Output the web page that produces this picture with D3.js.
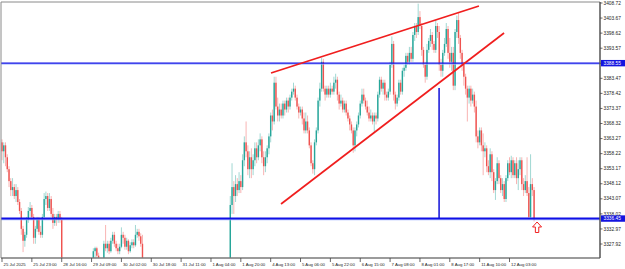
<!DOCTYPE html>
<html><head><meta charset="utf-8">
<script src="https://cdn.jsdelivr.net/npm/d3@7"></script>
<style>body{margin:0;background:#fff}svg{display:block}text{font-family:"Liberation Sans",Arial,sans-serif}</style>
</head><body><svg id="c" width="625" height="269"></svg>
<script>
// H1 bars, index 0 = first visible bar (25 Jul 2025)
const opens=[
3362,3359,3361,3357,3353,3349,3346,3347,3344,3346,
3342,3339,3333,3329,3331,3336,3339,3340,3337,3330,
3333,3336,3332,3331,3337,3343,3344,3340,3343,3338,
3335,3337,3336,3338,3336,3322,3317,3314,3311,3309,
3305,3307,3304,3306,3309,3312,3310,3313,3316,3314,
3317,3315,3319,3325.5,3326.5,3324,3321,3318,3317,3328,
3326.5,3328,3325.5,3329,3331,3328,3326.5,3325.5,3327,3331,
3330,3327,3329,3325.5,3327.5,3328.5,3327.5,3331,3332,3330.5,
3328,3322,3298,3285,3275,3279,3283,3287,3290,3288,
3292,3296,3294,3298,3302,3306,3311,3308,3303,3298,
3294,3291,3293,3290,3292,3289,3291,3293,3290,3292,
3295,3293,3291,3289,3291,3293,3290,3288,3290,3292,
3289,3291,3294,3292,3295,3293,3291,3290,3292,3291,
3292,3341,3347,3344,3348,3346,3349,3347,3356,3362,
3359,3353,3357,3353,3356,3360,3357,3361,3363,3357,
3354,3357,3360,3364,3371,3369,3382,3374,3371,3373,
3371,3375,3373,3376,3374,3377,3379,3380,3377,3374,
3372,3373,3370,3366,3369,3366,3361,3355,3353,3362,
3366,3376,3380,3389,3380,3378,3380,3378,3380,3379,
3382,3383,3378,3375,3376,3373,3375,3372,3370,3368,
3366,3361,3366,3368,3371,3375,3378,3376,3374,3372,
3370,3371,3369,3371,3370,3378,3383,3380,3382,3378,
3377,3379,3388,3395,3378,3375,3377,3382,3379,3386,
3387,3391,3389,3392,3390,3398,3401,3399,3404,3401,
3393,3388,3384,3393,3396,3398,3395,3393,3401,3399,
3388,3386,3392,3395,3400,3392,3389,3392,3381,3399,
3403,3397,3392,3388,3384,3380,3377,3380,3376,3378,
3374,3364,3362,3366,3361,3359,3360,3354,3352,3358,
3352,3346,3349,3355,3350,3346,3348,3343,3350,3355,
3352,3356,3351,3355,3350,3353,3356,3348,3346,3349,
3345,3337,3348,3346];
const highs=[
3363,3362,3362,3358,3354,3350,3350,3348,3348,3347,
3343,3340,3334,3332,3337,3340.3,3342,3341,3338,3334,
3337,3337,3334,3338,3345,3345.5,3345,3345,3344,3340,
3338,3338,3339,3339,3337,3323,3319,3316,3313,3311,
3309,3309,3308,3311,3314,3315,3316,3318,3319,3320,
3319,3321,3326.5,3327,3327,3325,3322,3320,3329,3334.3,
3329,3329,3330,3332,3332,3329,3328,3328,3333.5,3332,
3331,3330,3329.5,3328.5,3329.5,3329.5,3334.3,3333,3333,3331.5,
3331,3322,3300,3288,3282,3286,3290,3293,3292,3294,
3298,3299,3301,3304,3309,3314,3315,3310,3305,3300,
3296,3295,3295,3294,3293,3293,3295,3294,3294,3297,
3297,3295,3293,3293,3295,3294,3292,3292,3294,3293,
3293,3296,3295,3297,3297,3295,3293,3294,3294,3294,
3344,3355,3349,3351,3350,3352,3351,3358,3364,3369,
3361,3359,3360,3358,3362,3362,3363,3365,3364,3359,
3359,3361,3365,3372,3373,3384,3384,3377,3375,3375,
3376,3376,3377,3377,3378,3380,3382,3381,3378,3375,
3374,3374,3372,3372,3371,3367,3362,3356,3363,3367,
3377,3382,3390.3,3390,3381,3381,3381,3382,3381,3384,
3385,3384,3379,3378,3377,3376,3376,3373,3371,3369,
3367,3367,3369,3372,3376,3380,3380,3377,3376,3374,
3373,3372,3372,3372,3379,3384,3384,3383,3383,3379,
3380,3389,3397.5,3396,3379,3378,3383,3383,3387,3388,
3392,3392,3394,3394,3399,3402,3402,3408.5,3406,3402,
3394,3389,3395,3397,3400,3399,3396,3403,3402,3401,
3390,3393,3397,3402,3401,3397,3394,3394,3400,3404.5,
3405.5,3398,3393,3389,3385,3381,3381,3381,3380,3379,
3376,3366,3367,3367,3365,3362,3361,3356,3360,3359,
3353,3350,3357,3356,3351,3350,3349,3351,3356,3357,
3357.5,3357,3356,3357,3356,3357,3357,3350,3351,3357,
3347,3358,3350,3347];
const lows=[
3356,3355,3354,3352,3347,3344,3344,3343,3342,3341,
3338,3331,3325.2,3327,3330,3335,3337,3336,3328,3328,
3332,3331,3330,3330,3336,3341,3339,3339,3337,3333,
3334,3334,3335,3335,3318,3314,3311,3309,3306,3303,
3302,3301,3302,3304,3307,3308,3309,3311,3312,3313,
3313,3314,3318,3323,3322,3320,3316,3315,3316,3325.5,
3325,3324.5,3325,3328,3327,3325.5,3324.5,3324.5,3326.5,3328,
3326,3326,3324.5,3325,3326.5,3326.5,3327,3330,3329,3327,
3318,3294,3280,3268,3270,3276,3281,3285,3285,3286,
3290,3291,3292,3296,3300,3304,3305,3300,3295,3291,
3288,3289,3287,3288,3286,3287,3289,3288,3288,3290,
3291,3289,3287,3288,3290,3288,3286,3286,3289,3287,
3288,3290,3290,3291,3291,3289,3288,3289,3289,3290,
3290,3338,3338,3342,3344,3345,3345,3346,3354,3357,
3351,3350,3350,3351,3354,3355,3356,3359,3355,3351,
3352,3355,3358,3362,3366,3368,3373,3369,3369,3370,
3370,3371,3372,3372,3373,3376,3378,3376,3373,3370,
3371,3368,3365,3365,3365,3360,3354,3351.5,3351,3361,
3365,3374,3379,3379,3376,3377,3377,3377,3378,3378,
3380,3376,3373,3374,3372,3372,3371,3369,3366,3365,
3358.5,3359,3364,3367,3370,3374,3375,3373,3371,3369,
3369,3368,3365.5,3368,3369,3377,3379,3378,3376,3376,
3376,3378,3387,3376,3373,3374,3376,3378,3378,3384,
3386,3388,3388,3389,3389,3396,3397,3398,3400,3391,
3387,3382,3383,3392,3394,3393,3392,3392,3397,3386,
3384,3384,3391,3394,3390,3387,3386,3379.5,3379.5,3397,
3395,3390,3386,3381,3378,3369,3375,3374,3375,3372,
3362,3360,3361,3359,3351,3357,3352,3351,3350,3349,
3345,3342.7,3348,3348,3345,3344,3342,3342,3349,3351,
3350,3350,3350,3348,3346,3351,3346,3344,3345,3344,
3336.5,3336.5,3344,3335.5];
const closes=[
3359,3361,3357,3353,3349,3346,3347,3344,3346,3342,
3339,3333,3329,3331,3336,3339,3340,3337,3330,3333,
3336,3332,3331,3337,3343,3344,3340,3343,3338,3335,
3337,3336,3338,3336,3322,3317,3314,3311,3309,3305,
3307,3304,3306,3309,3312,3310,3313,3316,3314,3317,
3315,3319,3325.5,3326.5,3324,3321,3318,3317,3328,3326.5,
3328,3325.5,3329,3331,3328,3326.5,3325.5,3327,3331,3330,
3327,3329,3325.5,3327.5,3328.5,3327.5,3331,3332,3330.5,3328,
3322,3298,3285,3275,3279,3283,3287,3290,3288,3292,
3296,3294,3298,3302,3306,3311,3308,3303,3298,3294,
3291,3293,3290,3292,3289,3291,3293,3290,3292,3295,
3293,3291,3289,3291,3293,3290,3288,3290,3292,3289,
3291,3294,3292,3295,3293,3291,3290,3292,3291,3292,
3341,3347,3344,3348,3346,3349,3347,3356,3362,3359,
3353,3357,3353,3356,3360,3357,3361,3363,3357,3354,
3357,3360,3364,3371,3369,3382,3374,3371,3373,3371,
3375,3373,3376,3374,3377,3379,3380,3377,3374,3372,
3373,3370,3366,3369,3366,3361,3355,3353,3362,3366,
3376,3380,3389,3380,3378,3380,3378,3380,3379,3382,
3383,3378,3375,3376,3373,3375,3372,3370,3368,3366,
3361,3366,3368,3371,3375,3378,3376,3374,3372,3370,
3371,3369,3371,3370,3378,3383,3380,3382,3378,3377,
3379,3388,3395,3378,3375,3377,3382,3379,3386,3387,
3391,3389,3392,3390,3398,3401,3399,3404,3401,3393,
3388,3384,3393,3396,3398,3395,3393,3401,3399,3388,
3386,3392,3395,3400,3392,3389,3392,3381,3399,3403,
3397,3392,3388,3384,3380,3377,3380,3376,3378,3374,
3364,3362,3366,3361,3359,3360,3354,3352,3358,3352,
3346,3349,3355,3350,3346,3348,3343,3350,3355,3352,
3356,3351,3355,3350,3353,3356,3348,3346,3349,3345,
3337,3348,3346,3336];
const timeLabels=["25 Jul 2025","25 Jul 23:00","28 Jul 16:00","29 Jul 09:00","30 Jul 02:00","30 Jul 18:00","31 Jul 11:00","1 Aug 04:00","1 Aug 20:00","4 Aug 13:00","5 Aug 06:00","5 Aug 22:00","6 Aug 15:00","7 Aug 08:00","8 Aug 01:00","8 Aug 17:00","11 Aug 10:00","12 Aug 03:00"];
const labelBars=[0,17,34,51,68,85,102,119,136,153,170,187,204,221,238,255,272,289];
const priceTicks=[3408.72,3403.67,3398.62,3393.57,3388.52,3383.47,3378.42,3373.37,3368.32,3363.27,3358.22,3353.17,3348.12,3343.07,3338.02,3332.97,3327.92];
const hLevels=[3388.55,3336.45];
const trendUpper=[[153.2,3385.25],[271.6,3407.7]];
const trendLower=[[158.9,3341.33],[285.9,3398.66]];
const vLine={bar:248.9,from:3380.2,to:3336.45};
const arrowMark={bar:304.7,price:3335.3};

const svg=d3.select('#c');
const L=1,R=600,T=2,B=258;
const x=d3.scaleLinear().domain([0,289]).range([2,509.5]);
const y=d3.scaleLinear().domain([3327.92,3408.72]).range([244,3]);
const bull='#26a69a',bear='#ef5350';

svg.append('rect').attr('width',625).attr('height',269).attr('fill','#fff');
svg.append('defs').append('clipPath').attr('id','clip').append('rect')
  .attr('x',L).attr('y',T).attr('width',R-L).attr('height',B-T);
const g=svg.append('g').attr('clip-path','url(#clip)');

const bars=closes.map((c,i)=>({i,o:opens[i],h:highs[i],l:lows[i],c}));
g.selectAll('line.wick').data(bars).join('line').attr('class','wick')
  .attr('x1',d=>x(d.i)).attr('x2',d=>x(d.i))
  .attr('y1',d=>y(d.h)).attr('y2',d=>y(d.l))
  .attr('stroke',d=>d.c>=d.o?bull:bear).attr('stroke-width',0.8).attr('stroke-opacity',0.55);
g.selectAll('rect.body').data(bars).join('rect').attr('class','body')
  .attr('x',d=>x(d.i)-0.7).attr('width',1.4)
  .attr('y',d=>y(Math.max(d.o,d.c)))
  .attr('height',d=>Math.max(0.8,Math.abs(y(d.o)-y(d.c))))
  .attr('fill',d=>d.c>=d.o?bull:bear);

// horizontal levels
hLevels.forEach((p,k)=>{
  g.append('line').attr('x1',L).attr('x2',R).attr('y1',y(p)+(k?1.2:0.9)).attr('y2',y(p)+(k?1.2:0.9))
   .attr('stroke','#9fb4ff').attr('stroke-width',1);
  g.append('line').attr('x1',L).attr('x2',R).attr('y1',y(p)).attr('y2',y(p))
   .attr('stroke','#1010e6').attr('stroke-width',k?2:1.3);
});
// vertical line
g.append('line').attr('x1',x(vLine.bar)).attr('x2',x(vLine.bar))
  .attr('y1',y(vLine.from)).attr('y2',y(vLine.to)).attr('stroke','#1010d8').attr('stroke-width',1.5);
// trend lines
[trendUpper,trendLower].forEach(t=>{
  g.append('line').attr('x1',x(t[0][0])).attr('y1',y(t[0][1])).attr('x2',x(t[1][0])).attr('y2',y(t[1][1]))
   .attr('stroke','#f01e1e').attr('stroke-width',1.7);
});
// arrow
{const ax=x(arrowMark.bar),ay=y(arrowMark.price);
 g.append('path').attr('d',`M${ax},${ay} L${ax+4.5},${ay+5} L${ax+1.7},${ay+5} L${ax+1.7},${ay+10.5} L${ax-1.7},${ay+10.5} L${ax-1.7},${ay+5} L${ax-4.5},${ay+5} Z`)
  .attr('fill','#fff').attr('stroke','#f02020').attr('stroke-width',1);}

// frame
svg.append('line').attr('x1',L).attr('x2',R).attr('y1',T).attr('y2',T).attr('stroke','#8a8a8a').attr('stroke-width',1);
svg.append('line').attr('x1',L).attr('x2',L).attr('y1',T).attr('y2',B).attr('stroke','#8a8a8a').attr('stroke-width',1);
svg.append('line').attr('x1',L).attr('x2',R).attr('y1',B).attr('y2',B).attr('stroke','#7a7a7a').attr('stroke-width',1.5);
svg.append('line').attr('x1',R).attr('x2',R).attr('y1',T).attr('y2',B).attr('stroke','#555').attr('stroke-width',1.5);

// price axis
const pa=svg.append('g');
priceTicks.forEach(p=>{
  pa.append('line').attr('x1',R).attr('x2',R+2.5).attr('y1',y(p)).attr('y2',y(p)).attr('stroke','#444').attr('stroke-width',0.8);
  pa.append('text').attr('x',R+3.5).attr('y',y(p)).attr('dy','0.35em').attr('font-size',4.8).attr('fill','#222').text(p.toFixed(2));
});
hLevels.forEach(p=>{
  pa.append('rect').attr('x',R+1).attr('y',y(p)-3.2).attr('width',24).attr('height',6.4).attr('fill','#1414e0');
  pa.append('text').attr('x',R+3.5).attr('y',y(p)).attr('dy','0.35em').attr('font-size',4.8).attr('fill','#fff').text(p.toFixed(2));
});
// time axis
const ta=svg.append('g');
labelBars.forEach((b,k)=>{
  ta.append('line').attr('x1',x(b)).attr('x2',x(b)).attr('y1',B).attr('y2',B+4).attr('stroke','#444').attr('stroke-width',0.8);
  ta.append('text').attr('x',x(b)+1.5).attr('y',B+6.5).attr('dy','0.35em').attr('font-size',4.3).attr('fill','#222').text(timeLabels[k]);
});
</script></body></html>
